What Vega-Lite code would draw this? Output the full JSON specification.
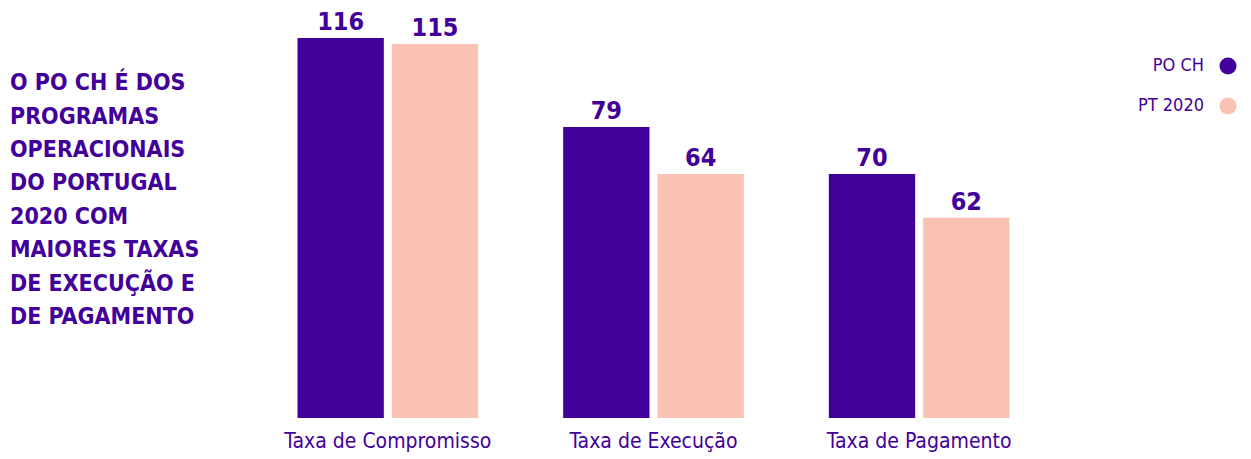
{
  "$schema": "https://vega.github.io/schema/vega-lite/v6.json",
  "autosize": "none",
  "width": 797,
  "height": 380,
  "padding": {"left": 255, "top": 38, "right": 199, "bottom": 41},
  "background": "white",
  "config": {
    "view": {"stroke": null},
    "font": "DejaVu Sans Condensed, sans-serif"
  },
  "title": {
    "text": ["O PO CH É DOS", "PROGRAMAS", "OPERACIONAIS", "DO PORTUGAL", "2020 COM", "MAIORES TAXAS", "DE EXECUÇÃO E", "DE PAGAMENTO"],
    "anchor": "start",
    "frame": "group",
    "orient": "top",
    "baseline": "top",
    "dx": -245,
    "dy": 323,
    "fontSize": 23,
    "fontWeight": "bold",
    "lineHeight": 33.4,
    "color": "#42009a",
    "font": "DejaVu Sans Condensed, sans-serif"
  },
  "data": {
    "values": [
      {"taxa": "Taxa de Compromisso", "programa": "PO CH", "valor": 116, "altura": 116},
      {"taxa": "Taxa de Compromisso", "programa": "PT 2020", "valor": 115, "altura": 114.2},
      {"taxa": "Taxa de Execução", "programa": "PO CH", "valor": 79, "altura": 88.8},
      {"taxa": "Taxa de Execução", "programa": "PT 2020", "valor": 64, "altura": 74.5},
      {"taxa": "Taxa de Pagamento", "programa": "PO CH", "valor": 70, "altura": 74.5},
      {"taxa": "Taxa de Pagamento", "programa": "PT 2020", "valor": 62, "altura": 61.1}
    ]
  },
  "encoding": {
    "x": {
      "field": "taxa",
      "type": "nominal",
      "sort": null,
      "title": null,
      "scale": {"paddingInner": 0.32, "paddingOuter": 0.16},
      "axis": {
        "labelAngle": 0,
        "domain": false,
        "ticks": false,
        "labelPadding": 12,
        "labelFontSize": 21,
        "labelLimit": 0,
        "labelColor": "#42009a"
      }
    },
    "xOffset": {
      "field": "programa",
      "type": "nominal",
      "sort": null,
      "scale": {"paddingInner": 0.085, "paddingOuter": 0}
    },
    "y": {
      "field": "altura",
      "type": "quantitative",
      "scale": {"domain": [0, 116], "nice": false},
      "axis": null
    }
  },
  "layer": [
    {
      "mark": {"type": "bar"},
      "encoding": {
        "color": {
          "field": "programa",
          "type": "nominal",
          "sort": null,
          "scale": {"domain": ["PO CH", "PT 2020"], "range": ["#42009a", "#f9c2b2"]},
          "legend": {
            "title": null,
            "orient": "none",
            "legendX": 964,
            "legendY": 19,
            "symbolType": "circle",
            "symbolSize": 290,
            "symbolStrokeWidth": 0,
            "labelAlign": "right",
            "labelOffset": -33,
            "labelFontSize": 18,
            "labelColor": "#42009a",
            "rowPadding": 22,
            "labelFont": "DejaVu Sans Condensed, sans-serif"
          }
        }
      }
    },
    {
      "mark": {"type": "text", "baseline": "alphabetic", "dy": -8, "fontSize": 25, "fontWeight": "bold", "color": "#42009a"},
      "encoding": {
        "text": {"field": "valor", "type": "quantitative"}
      }
    }
  ]
}
